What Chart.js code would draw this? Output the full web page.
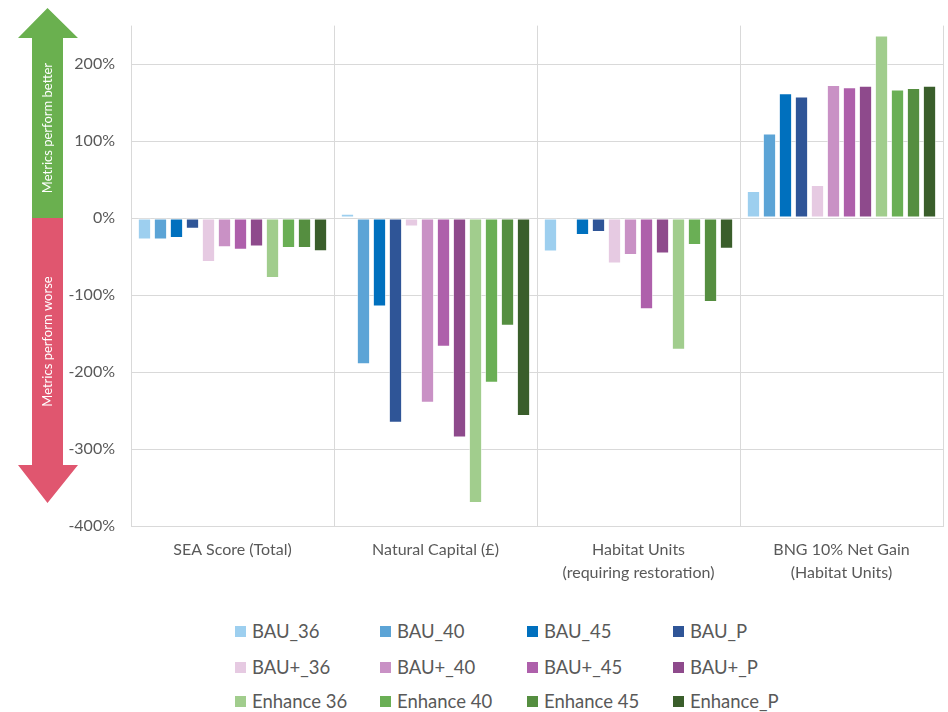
<!DOCTYPE html>
<html>
<head>
<meta charset="utf-8">
<script src="https://cdn.jsdelivr.net/npm/chart.js@4"></script>
<style>
  html, body { margin: 0; padding: 0; background: #ffffff; }
  #wrap { position: relative; width: 948px; height: 712px; overflow: hidden; font-family: Lato, sans-serif; }
  #c { position: absolute; left: 0; top: 0; }
  .lg { position: absolute; display: flex; align-items: center; font-size: 18.5px; color: #595959; white-space: nowrap; height: 24px; }
  .lg span.box { display: inline-block; width: 11px; height: 11px; margin-right: 6px; }
</style>
</head>
<body>
<div id="wrap">
  <canvas id="c" width="948" height="600"></canvas>
  <div id="legend"></div>
</div>
<script>
// ---- Data ----
const categories = ["SEA Score (Total)", "Natural Capital (£)", ["Habitat Units", "(requiring restoration)"], ["BNG 10% Net Gain", "(Habitat Units)"]];
const seriesNames = ["BAU_36", "BAU_40", "BAU_45", "BAU_P", "BAU+_36", "BAU+_40", "BAU+_45", "BAU+_P", "Enhance 36", "Enhance 40", "Enhance 45", "Enhance_P"];
const bau36 = [-28, 5.6, -43.5, 35];
const bau40 = [-28, -190, -2, 110];
const bau45 = [-26, -115, -22, 162];
const bauP = [-14, -266, -18, 158];
const bauPlus36 = [-57, -11, -59, 43];
const bauPlus40 = [-38, -240, -48, 173];
const bauPlus45 = [-41, -167, -118.5, 170];
const bauPlusP = [-37, -285, -46, 172];
const enhance36 = [-78, -370, -171, 237];
const enhance40 = [-39, -214, -35, 167];
const enhance45 = [-39, -140, -109, 169];
const enhanceP = [-43, -257, -40, 172];
const yTickValues = [-400, -300, -200, -100, 0, 100, 200];

// ---- Styles ----
const seriesColors = ["#9DCFEF", "#5CA4D6", "#0070BE", "#2F5597", "#E6CAE2", "#C991C5", "#AE60AB", "#8E4A8C", "#A1CD8D", "#6AAF55", "#558E40", "#3A5E2B"];
const seriesValues = [bau36, bau40, bau45, bauP, bauPlus36, bauPlus40, bauPlus45, bauPlusP, enhance36, enhance40, enhance45, enhanceP];

const textColor = "#595959";
const gridColor = "#D9D9D9";

const arrowPlugin = {
  id: "arrows",
  afterDraw(chart) {
    const ctx = chart.ctx;
    const y = chart.scales.y;
    const zero = y.getPixelForValue(0);
    const cx = 47.5, shaftL = 32, shaftR = 63, headL = 18, headR = 78;
    const gTip = 8, gBase = 38, rBase = 465, rTip = 503;
    ctx.save();
    // green arrow
    ctx.fillStyle = "#6AB04F";
    ctx.beginPath();
    ctx.moveTo(cx, gTip);
    ctx.lineTo(headR, gBase);
    ctx.lineTo(shaftR, gBase);
    ctx.lineTo(shaftR, zero);
    ctx.lineTo(shaftL, zero);
    ctx.lineTo(shaftL, gBase);
    ctx.lineTo(headL, gBase);
    ctx.closePath();
    ctx.fill();
    // red arrow
    ctx.fillStyle = "#E0566F";
    ctx.beginPath();
    ctx.moveTo(shaftL, zero);
    ctx.lineTo(shaftR, zero);
    ctx.lineTo(shaftR, rBase);
    ctx.lineTo(headR, rBase);
    ctx.lineTo(cx, rTip);
    ctx.lineTo(headL, rBase);
    ctx.lineTo(shaftL, rBase);
    ctx.closePath();
    ctx.fill();
    // texts
    ctx.fillStyle = "#ffffff";
    ctx.font = "13px Lato, sans-serif";
    ctx.textAlign = "center";
    ctx.textBaseline = "middle";
    ctx.translate(cx, (gBase + zero) / 2);
    ctx.rotate(-Math.PI / 2);
    ctx.fillText("Metrics perform better", 0, 0);
    ctx.rotate(Math.PI / 2);
    ctx.translate(0, (zero + rBase) / 2 - (gBase + zero) / 2);
    ctx.rotate(-Math.PI / 2);
    ctx.fillText("Metrics perform worse", 0, 0);
    ctx.restore();
  }
};

function build() {
  Chart.defaults.font.family = "Lato, sans-serif";
  Chart.defaults.font.size = 16;
  Chart.defaults.color = textColor;

  const datasets = seriesNames.map((name, i) => ({
    label: name,
    data: seriesValues[i],
    backgroundColor: seriesColors[i],
    borderColor: "rgba(255,255,255,0.55)",
    borderWidth: 1,
    borderSkipped: false,
    categoryPercentage: 0.946,
    barPercentage: 0.83
  }));

  new Chart(document.getElementById("c"), {
    type: "bar",
    data: { labels: categories, datasets },
    options: {
      responsive: false,
      animation: false,
      events: [],
      layout: { padding: { left: 0, right: 5, top: 23, bottom: 0 } },
      plugins: { legend: { display: false }, tooltip: { enabled: false } },
      scales: {
        x: {
          grid: { color: gridColor, lineWidth: 1, drawTicks: false, offset: true },
          border: { display: true, color: gridColor },
          ticks: { color: textColor, padding: 13, font: { size: 16, lineHeight: 1.4 }, maxRotation: 0, autoSkip: false },
          afterFit(scale) { scale.height = 74; }
        },
        y: {
          min: -400,
          max: 250,
          grid: { color: gridColor, lineWidth: 1, drawTicks: false },
          border: { display: false },
          ticks: { color: textColor, padding: 16, font: { size: 16 }, callback: v => v + "%" },
          afterBuildTicks(scale) { scale.ticks = yTickValues.map(v => ({ value: v })); },
          afterFit(scale) { scale.width = 131; }
        }
      }
    },
    plugins: [arrowPlugin]
  });

  // HTML legend, 4 columns x 3 rows
  const lg = document.getElementById("legend");
  const colLeft = [235, 380, 527, 673];
  const rowCenter = [631, 667, 701];
  seriesNames.forEach((name, i) => {
    const d = document.createElement("div");
    d.className = "lg";
    d.style.left = colLeft[i % 4] + "px";
    d.style.top = (rowCenter[Math.floor(i / 4)] - 12) + "px";
    d.innerHTML = '<span class="box" style="background:' + seriesColors[i] + '"></span><span></span>';
    d.lastChild.textContent = name;
    lg.appendChild(d);
  });
}

if (document.fonts && document.fonts.load) {
  document.fonts.load("16px Lato").then(build, build);
} else {
  build();
}
</script>
</body>
</html>
